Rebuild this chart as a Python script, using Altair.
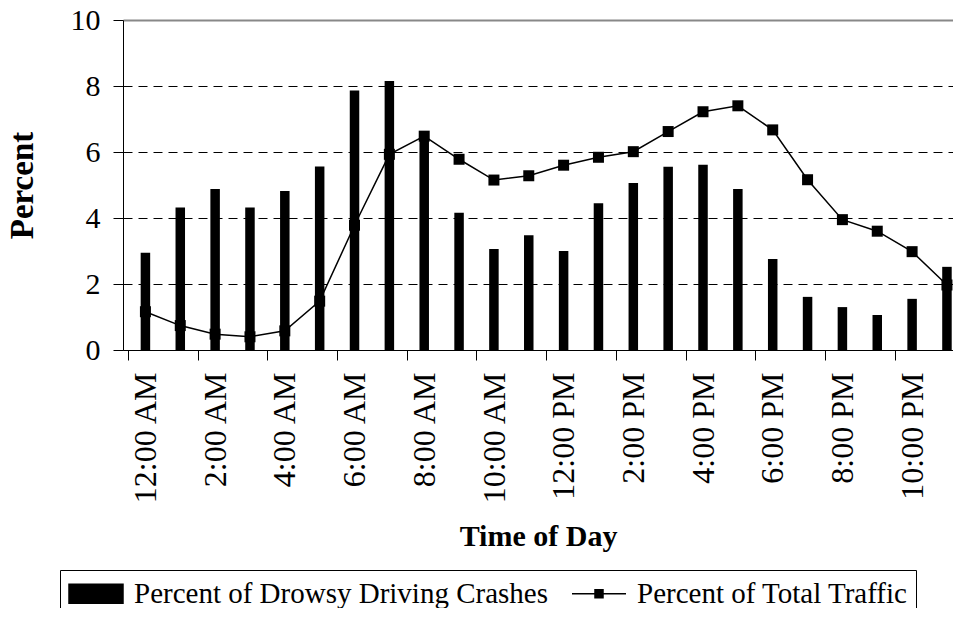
import altair as alt
import pandas as pd

hours = list(range(24))
crash_pct = [2.95, 4.32, 4.88, 4.32, 4.82, 5.56, 7.86, 8.15, 6.60, 4.16,
             3.06, 3.48, 3.00, 4.45, 5.06, 5.55, 5.61, 4.88, 2.76, 1.61,
             1.30, 1.06, 1.55, 2.52]
traffic_pct = [1.16, 0.74, 0.48, 0.40, 0.58, 1.48, 3.78, 5.93, 6.48, 5.78,
               5.15, 5.28, 5.60, 5.84, 6.01, 6.62, 7.22, 7.40, 6.67, 5.16,
               3.95, 3.60, 2.98, 1.97]
tick_hours = [0, 2, 4, 6, 8, 10, 12, 14, 16, 18, 20, 22]
tick_labels = ["12:00 AM", "2:00 AM", "4:00 AM", "6:00 AM", "8:00 AM", "10:00 AM",
               "12:00 PM", "2:00 PM", "4:00 PM", "6:00 PM", "8:00 PM", "10:00 PM"]
series_names = ["Percent of Drowsy Driving Crashes", "Percent of Total Traffic"]
y_ticks = [0, 2, 4, 6, 8, 10]

df = pd.DataFrame({
    "hour": hours,
    "mid": [h + 0.5 for h in hours],
    "crash": crash_pct,
    "traffic": traffic_pct,
})

FONT = "Liberation Serif"
label_arr = "[" + ",".join("'%s'" % t for t in tick_labels) + "]"

x_enc = alt.X(
    "mid:Q",
    scale=alt.Scale(domain=[0, 23.53], nice=False, zero=False),
    axis=alt.Axis(
        values=tick_hours,
        labelExpr=label_arr + "[floor(datum.value / 2)]",
        labelAngle=270,
        labelAlign="right",
        labelBaseline="middle",
        labelOffset=17.6,
        labelPadding=12,
        labelFontSize=32,
        tickSize=10,
        grid=False,
        title="Time of Day",
        titleFontSize=30,
        titlePadding=17,
        labelOverlap=False,
    ),
)

y_axis = alt.Axis(
    values=y_ticks,
    tickSize=10,
    labelPadding=13,
    labelFontSize=30,
    title="Percent",
    titleFontSize=33,
    titlePadding=31,
    grid=True,
    gridDash={"condition": {"test": "datum.value == 10", "value": [1, 0]}, "value": [9, 6]},
    gridColor={"condition": {"test": "datum.value == 10", "value": "#888888"}, "value": "black"},
    gridWidth={"condition": {"test": "datum.value == 10", "value": 2}, "value": 1},
)

color_scale = alt.Scale(domain=series_names, range=["black", "black"])

sym_expr = ("datum.value == '%s' ? 'M-1,0H2.724M0.586,-0.276H1.138V0.276H0.586Z' : "
            "'M-1,-0.655H2.724V0.655H-1Z'") % series_names[1]

legend = alt.Legend(
    title=None,
    orient="none",
    legendX=-63,
    legendY=550,
    direction="horizontal",
    symbolType={"expr": sym_expr},
    symbolSize=841,
    symbolStrokeWidth=1.5,
    symbolFillColor="black",
    symbolStrokeColor="black",
    labelOffset=35,
    columnPadding=21,
    labelLimit=1000,
    padding=8,
    strokeColor="black",
    fillColor="white",
    labelFont=FONT,
    labelFontSize=29,
    labelColor="black",
    cornerRadius=0,
)

bars = alt.Chart(df).mark_bar(size=9.5).encode(
    x=x_enc,
    y=alt.Y("crash:Q", scale=alt.Scale(domain=[0, 10], nice=False), axis=y_axis),
    color=alt.Color("series:N", scale=color_scale, legend=legend),
).transform_calculate(series="'%s'" % series_names[0])

line = alt.Chart(df).mark_line(
    strokeWidth=1.5,
    point=alt.OverlayMarkDef(shape="square", size=121, filled=True, opacity=1),
).encode(
    x=alt.X("mid:Q"),
    y=alt.Y("traffic:Q"),
    color=alt.Color("series:N", scale=color_scale, legend=legend),
).transform_calculate(series="'%s'" % series_names[1])

chart = alt.layer(bars, line).properties(
    width=830,
    height=330,
    autosize=alt.AutoSizeParams(type="none"),
    padding={"left": 115, "top": 12, "right": 0, "bottom": 258},
).configure_view(stroke=None).configure_axis(
    labelFont=FONT,
    labelColor="black",
    titleFont=FONT,
    titleFontWeight="bold",
    titleColor="black",
    domainColor="black",
    tickColor="black",
)

chart.save("out.html", embed_options={"renderer": "svg", "actions": False})
